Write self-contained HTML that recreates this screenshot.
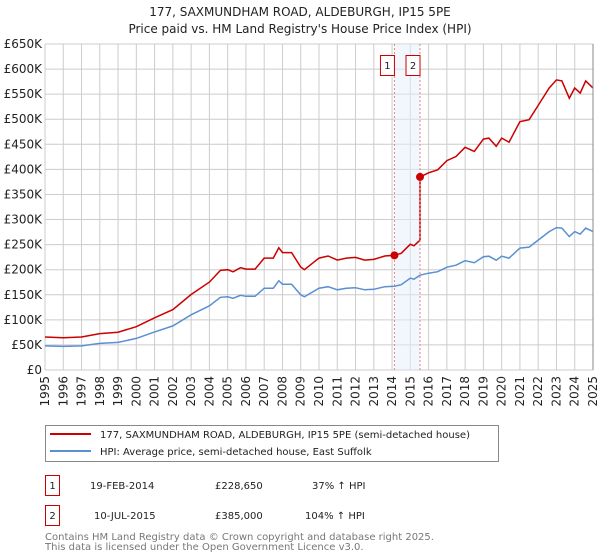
<!DOCTYPE html>
<html><head><meta charset="utf-8"><style>
body{margin:0;background:#fff;width:600px;height:560px;overflow:hidden;font-family:"DejaVu Sans","Liberation Sans",sans-serif}
svg{display:block}
text{font-family:"DejaVu Sans","Liberation Sans",sans-serif}
</style></head><body>
<svg id="c" width="600" height="560" xmlns="http://www.w3.org/2000/svg">
<text x="300" y="16" text-anchor="middle" font-size="12" fill="#222">177, SAXMUNDHAM ROAD, ALDEBURGH, IP15 5PE</text>
<text x="300" y="33" text-anchor="middle" font-size="12" fill="#222">Price paid vs. HM Land Registry's House Price Index (HPI)</text>
<g id="grid"></g>
<g id="marks"></g>
<g id="axes"></g>
<g>
<rect x="45.5" y="425.5" width="453" height="36" fill="#fff" stroke="#888"/>
<line x1="50" y1="434" x2="91" y2="434" stroke="#cc0000" stroke-width="2"/>
<text x="100" y="438" font-size="10" fill="#222">177, SAXMUNDHAM ROAD, ALDEBURGH, IP15 5PE (semi-detached house)</text>
<line x1="50" y1="451" x2="91" y2="451" stroke="#5b8fd4" stroke-width="2"/>
<text x="100" y="455" font-size="10" fill="#222">HPI: Average price, semi-detached house, East Suffolk</text>
</g>
<g font-size="10" fill="#222">
<rect x="45.5" y="475.5" width="14" height="20" fill="#fff" stroke="#cc0000"/>
<text x="52.5" y="489" text-anchor="middle">1</text>
<text x="90" y="489">19-FEB-2014</text>
<text x="215" y="489">£228,650</text>
<text x="312" y="489">37% ↑ HPI</text>
<rect x="45.5" y="505.5" width="14" height="20" fill="#fff" stroke="#cc0000"/>
<text x="52.5" y="519" text-anchor="middle">2</text>
<text x="94" y="519">10-JUL-2015</text>
<text x="215" y="519">£385,000</text>
<text x="305" y="519">104% ↑ HPI</text>
</g>
<text x="45" y="540" font-size="10" fill="#777">Contains HM Land Registry data © Crown copyright and database right 2025.</text>
<text x="45" y="550" font-size="10" fill="#777">This data is licensed under the Open Government Licence v3.0.</text>
</svg>
<script>
const hpiYears=[1995,1996,1997,1998,1999,2000,2001,2002,2003,2004,2004.6,2005,2005.3,2005.7,2006,2006.5,2007,2007.5,2007.8,2008,2008.5,2009,2009.2,2010,2010.5,2011,2011.5,2012,2012.5,2013,2013.6,2014.13,2014.5,2015,2015.2,2015.53,2016,2016.5,2017,2017.5,2018,2018.5,2019,2019.3,2019.7,2020,2020.4,2021,2021.5,2022,2022.6,2023,2023.3,2023.7,2024,2024.3,2024.6,2025];
const hpiValues=[48,47,48,53,55,63,76,88,110,128,145,146,143,149,147,147,163,163,178,171,171,150,146,163,166,160,163,164,160,161,166,167,170,183,181,189,193,196,205,209,218,214,226,227,219,227,223,243,245,259,276,284,283,266,276,271,283,276];
const saleYears=[2014.13,2015.53];
const salePrices=[228650,385000];
const yTicks=[0,50,100,150,200,250,300,350,400,450,500,550,600,650];
const xTicks=[1995,1996,1997,1998,1999,2000,2001,2002,2003,2004,2005,2006,2007,2008,2009,2010,2011,2012,2013,2014,2015,2016,2017,2018,2019,2020,2021,2022,2023,2024,2025];
const NS="http://www.w3.org/2000/svg";
const X0=45,X1=593,Y0=370,Y1=44;
const xs=y=>X0+(y-1995)/30*(X1-X0);
const ys=v=>Y0-v/650*(Y0-Y1);
function mk(p,t,a){const e=document.createElementNS(NS,t);for(const k in a)e.setAttribute(k,a[k]);p.appendChild(e);return e;}
const grid=document.getElementById('grid'),marks=document.getElementById('marks'),axes=document.getElementById('axes');
yTicks.forEach(v=>{const l=mk(grid,'line',{x1:X0,x2:X1,y1:ys(v),y2:ys(v),stroke:'#ccc','stroke-width':1});


const t=mk(axes,'text',{x:X0-3,y:ys(v)+4,'text-anchor':'end','font-size':12,fill:'#222'});t.textContent=v===0?'£0':'£'+v+'K';

});
xTicks.forEach(y=>{const l=mk(grid,'line',{x1:xs(y),x2:xs(y),y1:Y1,y2:Y0,stroke:'#ccc','stroke-width':1});


const t=mk(axes,'text',{x:0,y:0,'text-anchor':'end','font-size':12,fill:'#222',transform:`translate(${xs(y)+4},${Y0+6}) rotate(-90)`});t.textContent=y;

});
const band=mk(marks,'rect',{x:xs(saleYears[0]),y:Y1,width:xs(saleYears[1])-xs(saleYears[0]),height:Y0-Y1,fill:'#e6eefc','fill-opacity':0.5});


function hpiAt(t){for(let i=0;i<hpiYears.length-1;i++){if(t<=hpiYears[i+1]){const f=(t-hpiYears[i])/(hpiYears[i+1]-hpiYears[i]);return hpiValues[i]+f*(hpiValues[i+1]-hpiValues[i]);}}return hpiValues[hpiValues.length-1];}
const bp=hpiYears.map((y,i)=>`${xs(y).toFixed(1)},${ys(hpiValues[i]).toFixed(1)}`).join(' ');
const bl=mk(marks,'polyline',{points:bp,fill:'none',stroke:'#5b8fd4','stroke-width':1.5});


const r1=salePrices[0]/1000/hpiAt(saleYears[0]),r2=salePrices[1]/1000/hpiAt(saleYears[1]);
let rp=[];
hpiYears.forEach((y,i)=>{if(y<saleYears[1])rp.push([y,hpiValues[i]*r1]);});
rp.push([saleYears[1],hpiAt(saleYears[1])*r1]);
rp.push([saleYears[1],salePrices[1]/1000]);
hpiYears.forEach((y,i)=>{if(y>saleYears[1])rp.push([y,hpiValues[i]*r2]);});
const rl=mk(marks,'polyline',{points:rp.map(p=>`${xs(p[0]).toFixed(1)},${ys(p[1]).toFixed(1)}`).join(' '),fill:'none',stroke:'#cc0000','stroke-width':1.5});


saleYears.forEach((y,i)=>{
const v=mk(marks,'line',{x1:xs(y),x2:xs(y),y1:Y1,y2:Y0,stroke:'#f08080','stroke-width':1,'stroke-dasharray':'2,2'});


const c=mk(marks,'circle',{cx:xs(y),cy:ys(salePrices[i]/1000),r:4,fill:'#cc0000'});


const b=mk(marks,'rect',{x:xs(y)-14,y:55.5,width:14,height:20,fill:'#fff',stroke:'#cc0000'});


const t=mk(marks,'text',{x:xs(y)-7,y:69,'text-anchor':'middle','font-size':10,fill:'#222'});t.textContent=String(i+1);


});
const ax=mk(axes,'line',{x1:X1,x2:X1,y1:Y1,y2:Y0,stroke:'#888'});


</script>
</body></html>
